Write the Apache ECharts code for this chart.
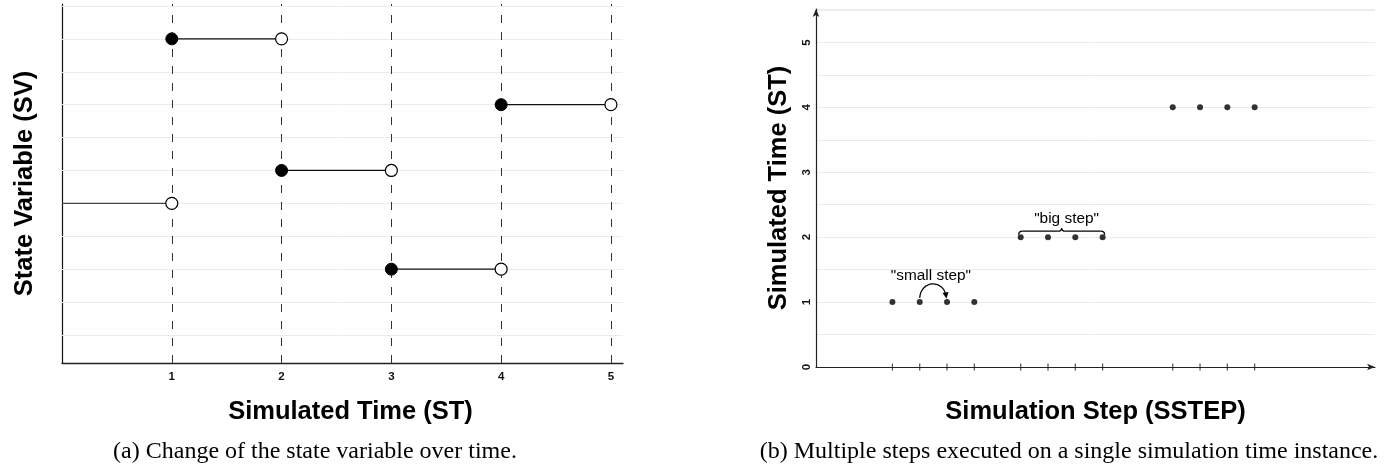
<!DOCTYPE html>
<html>
<head>
<meta charset="utf-8">
<script src="https://cdn.jsdelivr.net/npm/echarts@6/dist/echarts.min.js"></script>
<style>
html,body{margin:0;padding:0;background:#fff;}
#c{width:1388px;height:469px;}
</style>
</head>
<body>
<div id="c"></div>
<script>
// ---------- (a) State variable over simulated time ----------
const stTicks = [1, 2, 3, 4, 5];
const svGridValues = [1, 2, 3, 4, 5, 6, 7, 8, 9, 10, 11];
const segStart = [0, 1, 2, 3, 4];
const segEnd = [1, 2, 3, 4, 5];
const segSV = [5, 10, 6, 3, 8];

// ---------- (b) Simulation steps vs simulated time ----------
const stepX = [2.8, 3.8, 4.8, 5.8, 7.5, 8.5, 9.5, 10.5, 13.07, 14.07, 15.07, 16.07];
const stepST = [1, 1, 1, 1, 2, 2, 2, 2, 4, 4, 4, 4];
const stLabels = [0, 1, 2, 3, 4, 5];
const smallStepFrom = 1, smallStepTo = 2;
const bigStepGroup = [4, 5, 6, 7];
const smallStepLabel = '"small step"';
const bigStepLabel = '"big step"';
const smallStepLabelPos = [4.21, 1.40];
const bigStepLabelPos = [9.18, 2.28];

const captionA = '(a) Change of the state variable over time.';
const captionB = '(b) Multiple steps executed on a single simulation time instance.';

const SANS = '"Liberation Sans", Arial, sans-serif';
const SERIF = '"Liberation Serif", "Times New Roman", serif';
const NAME_SIZE = 25.5;
const TICK_SIZE = 11.5;

const chart = echarts.init(document.getElementById('c'), null, {renderer: 'canvas'});

const segSeries = segStart.map((s, i) => ({
  type: 'line',
  xAxisIndex: 0, yAxisIndex: 0,
  z: 4,
  silent: true,
  animation: false,
  lineStyle: {color: i === 0 ? '#444' : '#111', width: 1.2},
  symbolSize: 12,
  data: [
    {value: [s, segSV[i]], symbol: s === 0 ? 'none' : 'circle',
     itemStyle: {color: '#000', borderColor: '#000', borderWidth: 1}},
    {value: [segEnd[i], segSV[i]], symbol: 'circle',
     itemStyle: {color: '#fff', borderColor: '#000', borderWidth: 1.2}}
  ]
}));

const nameStyle = {fontFamily: SANS, fontWeight: 'bold', fontSize: NAME_SIZE, color: '#000'};

const option = {
  animation: false,
  backgroundColor: '#fff',
  grid: [
    {left: 62, right: 765, top: 4, bottom: 106, containLabel: false},
    {left: 816, right: 13, top: 9, bottom: 102, containLabel: false}
  ],
  xAxis: [
    {
      gridIndex: 0, type: 'value', min: 0, max: 5.11, interval: 1,
      name: 'Simulated Time (ST)', nameLocation: 'middle', nameGap: 36,
      nameTextStyle: Object.assign({}, nameStyle, {padding: [0, 0, 0, 16]}),
      axisLine: {show: true, lineStyle: {color: '#222', width: 1.3}},
      axisTick: {show: false},
      axisLabel: {
        show: true, margin: 8, fontFamily: SANS, fontWeight: 'bold', fontSize: TICK_SIZE, color: '#111',
        showMaxLabel: false,
        formatter: v => (stTicks.indexOf(v) >= 0 ? String(v) : '')
      },
      splitLine: {show: false}
    },
    {
      gridIndex: 1, type: 'value', min: 0, max: 20.48,
      name: 'Simulation Step (SSTEP)', nameLocation: 'middle', nameGap: 32,
      nameTextStyle: nameStyle,
      axisLine: {show: true, symbol: ['none', 'arrow'], symbolSize: [5, 8], lineStyle: {color: '#222', width: 1.2}},
      axisTick: {show: false},
      axisLabel: {show: false},
      splitLine: {show: false}
    }
  ],
  yAxis: [
    {
      gridIndex: 0, type: 'value', min: 0.148, max: 11.06,
      name: 'State Variable (SV)', nameLocation: 'middle', nameGap: 24, nameRotate: 90,
      nameTextStyle: nameStyle,
      axisLine: {show: true, lineStyle: {color: '#111', width: 1.2}},
      axisTick: {show: false},
      axisLabel: {show: false},
      splitLine: {show: false}
    },
    {
      gridIndex: 1, type: 'value', min: 0, max: 5.515, interval: 0.5,
      name: 'Simulated Time (ST)', nameLocation: 'middle', nameGap: 24, nameRotate: 90,
      nameTextStyle: nameStyle,
      axisLine: {show: true, symbol: ['none', 'arrow'], symbolSize: [5, 8], lineStyle: {color: '#222', width: 1.2}},
      axisTick: {show: false},
      axisLabel: {
        show: true, rotate: 90, margin: 3, fontFamily: SANS, fontWeight: 'bold', fontSize: TICK_SIZE, color: '#111',
        showMaxLabel: false,
        formatter: v => (stLabels.indexOf(v) >= 0 ? String(v) : '')
      },
      splitLine: {show: true, lineStyle: {color: '#ebebeb', width: 1}}
    }
  ],
  series: [
    {
      type: 'line', xAxisIndex: 0, yAxisIndex: 0, data: [], z: 1, silent: true,
      markLine: {
        silent: true, symbol: 'none', animation: false, z: 1,
        label: {show: false},
        lineStyle: {color: '#ebebeb', width: 1, type: 'solid'},
        data: svGridValues.map(v => ({yAxis: v}))
      }
    },
    {
      type: 'line', xAxisIndex: 0, yAxisIndex: 0, data: [], z: 2, silent: true,
      markLine: {
        silent: true, symbol: 'none', animation: false, z: 2,
        label: {show: false},
        lineStyle: {color: '#333', width: 1, type: [8, 9]},
        data: stTicks.map(v => ({xAxis: v}))
      }
    },
    ...segSeries,
    {
      type: 'scatter', xAxisIndex: 1, yAxisIndex: 1, silent: true, clip: false, z: 3,
      symbol: 'rect', symbolSize: [1.2, 7],
      itemStyle: {color: '#222'},
      data: stepX.map(x => [x, 0])
    },
    {
      type: 'scatter', xAxisIndex: 1, yAxisIndex: 1, silent: true, z: 4,
      symbol: 'circle', symbolSize: 6,
      itemStyle: {color: '#000'},
      data: stepX.map((x, i) => [x, stepST[i]])
    }
  ]
};

chart.setOption(option);

// annotations positioned from data coordinates
const px = p => chart.convertToPixel({xAxisIndex: 1, yAxisIndex: 1}, p);
const a = px([stepX[smallStepFrom], stepST[smallStepFrom]]);
const b = px([stepX[smallStepTo], stepST[smallStepTo]]);
const y1 = a[1] - 4, y2 = b[1] - 4;
const g1 = px([stepX[bigStepGroup[0]], stepST[bigStepGroup[0]]]);
const g2 = px([stepX[bigStepGroup[bigStepGroup.length - 1]], stepST[bigStepGroup[0]]]);
const bx1 = g1[0] - 2, bx2 = g2[0] + 2, bxm = (bx1 + bx2) / 2;
const yb = g1[1] - 2.5, yt = g1[1] - 6, yp = g1[1] - 9;
const braceStyle = {stroke: '#000', lineWidth: 1.3, fill: null};
const q = (x1, y1_, cx, cy, x2, y2_) => ({
  type: 'bezierCurve', silent: true, z: 10,
  shape: {x1: x1, y1: y1_, cpx1: cx, cpy1: cy, x2: x2, y2: y2_},
  style: braceStyle
});
const ln = (x1, y1_, x2, y2_) => ({
  type: 'line', silent: true, z: 10,
  shape: {x1: x1, y1: y1_, x2: x2, y2: y2_},
  style: braceStyle
});
const sl = px(smallStepLabelPos), bl = px(bigStepLabelPos);

chart.setOption({
  graphic: [
    {
      type: 'bezierCurve', silent: true, z: 10,
      shape: {x1: a[0], y1: y1, x2: b[0] - 1, y2: y2 - 2,
              cpx1: a[0] + 1, cpy1: y1 - 18, cpx2: b[0] - 3, cpy2: y2 - 19},
      style: {stroke: '#000', lineWidth: 1.2, fill: null}
    },
    {
      type: 'polygon', silent: true, z: 10,
      shape: {points: [[b[0] - 4.5, y2 - 5], [b[0] + 1.5, y2 - 6], [b[0] - 0.5, y2 + 0.5]]},
      style: {fill: '#000'}
    },
    q(bx1, yb, bx1, yt, bx1 + 4, yt),
    ln(bx1 + 4, yt, bxm - 4, yt),
    q(bxm - 4, yt, bxm, yt, bxm, yp),
    q(bxm, yp, bxm, yt, bxm + 4, yt),
    ln(bxm + 4, yt, bx2 - 4, yt),
    q(bx2 - 4, yt, bx2, yt, bx2, yb),
    {
      type: 'text', silent: true, z: 10, x: sl[0], y: sl[1], scaleX: 1.1,
      style: {text: smallStepLabel, font: '14px ' + SANS, fill: '#000', textAlign: 'center', textVerticalAlign: 'middle'}
    },
    {
      type: 'text', silent: true, z: 10, x: bl[0], y: bl[1], scaleX: 1.1,
      style: {text: bigStepLabel, font: '14px ' + SANS, fill: '#000', textAlign: 'center', textVerticalAlign: 'middle'}
    },
    {
      type: 'text', silent: true, x: 315, y: 452,
      style: {text: captionA, font: '24px ' + SERIF, fill: '#000', textAlign: 'center', textVerticalAlign: 'middle'}
    },
    {
      type: 'text', silent: true, x: 1069, y: 452,
      style: {text: captionB, font: '24px ' + SERIF, fill: '#000', textAlign: 'center', textVerticalAlign: 'middle'}
    }
  ]
});
</script>
</body>
</html>
